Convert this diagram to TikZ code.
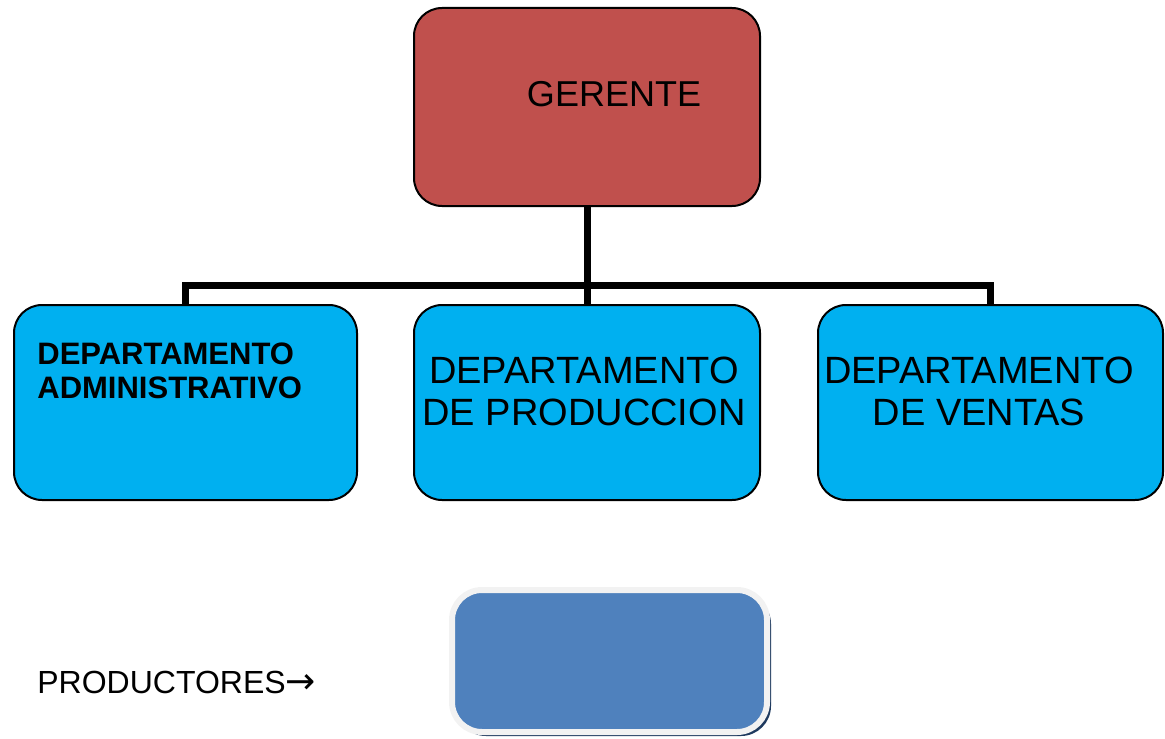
\documentclass[tikz,border=0pt]{standalone}
\usepackage{fontspec}
\setmainfont{Liberation Sans}
\newfontfamily\flechas{DejaVu Sans}
\usetikzlibrary{shadows}
\definecolor{gerrojo}{HTML}{C0504D}
\definecolor{depazul}{HTML}{00B0F0}
\definecolor{prodazul}{HTML}{4F81BD}
\definecolor{sombra}{HTML}{1F3A5F}

\begin{document}
\begin{tikzpicture}[x=0.5pt,y=-0.5pt,
  caja/.style={draw=black, line width=1pt, rounded corners=14pt, inner sep=0pt, minimum height=97.5pt},
  depto/.style={caja, fill=depazul},
  linea/.style={line width=3.5pt},
  texto/.style={font=\fontsize{19}{21}\selectfont, align=center, inner sep=0pt}]
\useasboundingbox (0,0) rectangle (1165,738);
\node[caja, fill=gerrojo, minimum width=173pt, minimum height=99pt] (ger) at (587,107) {};
\node[depto, minimum width=171.5pt] (adm) at (185.5,402.5) {};
\node[depto, minimum width=173pt] (prod) at (587,402.5) {};
\node[depto, minimum width=172.5pt] (ven) at (990.5,402.5) {};
\node[draw=white!95!black, line width=3pt, fill=prodazul, rounded corners=15pt, minimum width=157.5pt, minimum height=71pt,
  drop shadow={shadow xshift=2pt, shadow yshift=-2pt, fill=sombra, opacity=1}] (prov) at (609.5,661) {};
% conectores
\coordinate (busi) at (adm.north |- 0,285);
\coordinate (busd) at (ven.north |- 0,285);
\draw[linea] (ger.south) -- (prod.north);
\draw[linea] (adm.north) -- (busi) -- (busd) -- (ven.north);
% textos
\node[anchor=base, inner sep=0pt, font=\fontsize{18}{21}\selectfont] (tger) at (614,106) {GERENTE};
\node[anchor=base west, align=left, inner sep=0pt, font=\bfseries\fontsize{15.5}{17}\selectfont] (tadm) at (37,398) {DEPARTAMENTO\\ADMINISTRATIVO};
\node[texto, anchor=base] (tprod) at (584,425) {DEPARTAMENTO\\DE PRODUCCION};
\node[texto, anchor=base] (tven) at (979,425) {DEPARTAMENTO\\DE VENTAS};
\node[anchor=base west, inner sep=0pt, font=\fontsize{16}{18}\selectfont] (tprod2) at (37,693) {PRODUCTORES{\flechas\fontsize{18}{18}\selectfont →}};
\end{tikzpicture}
\end{document}
